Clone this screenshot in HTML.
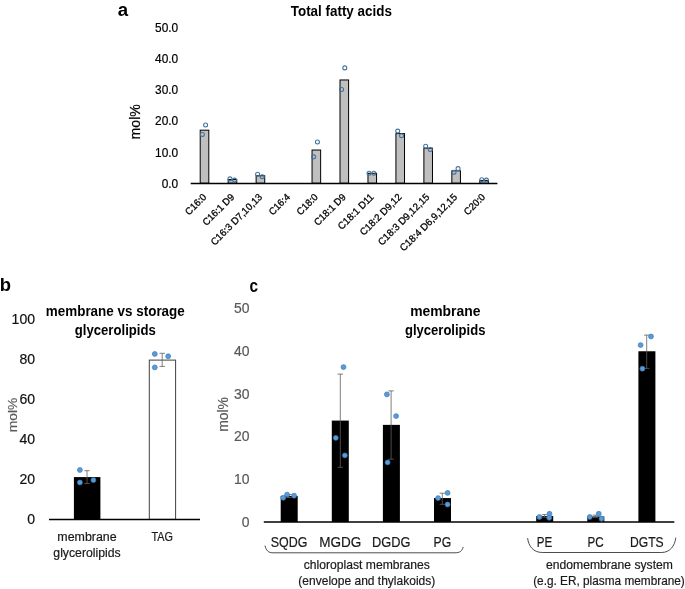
<!DOCTYPE html>
<html><head><meta charset="utf-8"><title>Figure</title>
<style>
html,body{margin:0;padding:0;background:#fff;}
svg{display:block;font-family:"Liberation Sans",sans-serif;}
</style></head><body>
<svg width="685" height="589" viewBox="0 0 685 589">
<rect x="0" y="0" width="685" height="589" fill="#fff"/>
<text x="122.90" y="16.20" font-size="18.90" text-anchor="middle" fill="#000" font-weight="bold" textLength="10.37" lengthAdjust="spacingAndGlyphs">a</text>
<text x="341.30" y="15.80" font-size="13.83" text-anchor="middle" fill="#000" font-weight="bold" textLength="101.13" lengthAdjust="spacingAndGlyphs">Total fatty acids</text>
<text x="178.20" y="188.00" font-size="12.90" text-anchor="end" fill="#000" textLength="16.50" lengthAdjust="spacingAndGlyphs" stroke="#000" stroke-width="0.2">0.0</text>
<text x="178.20" y="156.70" font-size="12.90" text-anchor="end" fill="#000" textLength="23.10" lengthAdjust="spacingAndGlyphs" stroke="#000" stroke-width="0.2">10.0</text>
<text x="178.20" y="125.40" font-size="12.90" text-anchor="end" fill="#000" textLength="23.10" lengthAdjust="spacingAndGlyphs" stroke="#000" stroke-width="0.2">20.0</text>
<text x="178.20" y="94.10" font-size="12.90" text-anchor="end" fill="#000" textLength="23.10" lengthAdjust="spacingAndGlyphs" stroke="#000" stroke-width="0.2">30.0</text>
<text x="178.20" y="62.80" font-size="12.90" text-anchor="end" fill="#000" textLength="23.10" lengthAdjust="spacingAndGlyphs" stroke="#000" stroke-width="0.2">40.0</text>
<text x="178.20" y="31.50" font-size="12.90" text-anchor="end" fill="#000" textLength="23.10" lengthAdjust="spacingAndGlyphs" stroke="#000" stroke-width="0.2">50.0</text>
<text x="0.00" y="0.00" font-size="13.95" text-anchor="middle" fill="#000" textLength="35.19" lengthAdjust="spacingAndGlyphs" transform="translate(139.90,121.80) rotate(-90)" stroke="#000" stroke-width="0.2">mol%</text>
<rect x="200.20" y="130.19" width="8.60" height="53.01" fill="#bfbfbf" stroke="#000" stroke-width="1"/>
<text x="0.00" y="0.00" font-size="9.90" text-anchor="end" fill="#000" textLength="25.53" lengthAdjust="spacingAndGlyphs" transform="translate(207.10,197.70) rotate(-45)" stroke="#000" stroke-width="0.3">C16:0</text>
<rect x="228.16" y="179.48" width="8.60" height="3.72" fill="#bfbfbf" stroke="#000" stroke-width="1"/>
<text x="0.00" y="0.00" font-size="9.90" text-anchor="end" fill="#000" textLength="40.36" lengthAdjust="spacingAndGlyphs" transform="translate(234.97,197.70) rotate(-45)" stroke="#000" stroke-width="0.3">C16:1 D9</text>
<rect x="256.12" y="175.76" width="8.60" height="7.44" fill="#bfbfbf" stroke="#000" stroke-width="1"/>
<text x="0.00" y="0.00" font-size="9.90" text-anchor="end" fill="#000" textLength="68.15" lengthAdjust="spacingAndGlyphs" transform="translate(262.84,197.70) rotate(-45)" stroke="#000" stroke-width="0.3">C16:3 D7,10,13</text>
<text x="0.00" y="0.00" font-size="9.90" text-anchor="end" fill="#000" textLength="25.53" lengthAdjust="spacingAndGlyphs" transform="translate(290.71,197.70) rotate(-45)" stroke="#000" stroke-width="0.3">C16:4</text>
<rect x="312.04" y="150.03" width="8.60" height="33.17" fill="#bfbfbf" stroke="#000" stroke-width="1"/>
<text x="0.00" y="0.00" font-size="9.90" text-anchor="end" fill="#000" textLength="25.53" lengthAdjust="spacingAndGlyphs" transform="translate(318.58,197.70) rotate(-45)" stroke="#000" stroke-width="0.3">C18:0</text>
<rect x="340.00" y="79.97" width="8.60" height="103.23" fill="#bfbfbf" stroke="#000" stroke-width="1"/>
<text x="0.00" y="0.00" font-size="9.90" text-anchor="end" fill="#000" textLength="40.36" lengthAdjust="spacingAndGlyphs" transform="translate(346.45,197.70) rotate(-45)" stroke="#000" stroke-width="0.3">C18:1 D9</text>
<rect x="367.96" y="173.28" width="8.60" height="9.92" fill="#bfbfbf" stroke="#000" stroke-width="1"/>
<text x="0.00" y="0.00" font-size="9.90" text-anchor="end" fill="#000" textLength="45.94" lengthAdjust="spacingAndGlyphs" transform="translate(374.32,197.70) rotate(-45)" stroke="#000" stroke-width="0.3">C18:1 D11</text>
<rect x="395.92" y="133.60" width="8.60" height="49.60" fill="#bfbfbf" stroke="#000" stroke-width="1"/>
<text x="0.00" y="0.00" font-size="9.90" text-anchor="end" fill="#000" textLength="54.26" lengthAdjust="spacingAndGlyphs" transform="translate(402.19,197.70) rotate(-45)" stroke="#000" stroke-width="0.3">C18:2 D9,12</text>
<rect x="423.88" y="148.17" width="8.60" height="35.03" fill="#bfbfbf" stroke="#000" stroke-width="1"/>
<text x="0.00" y="0.00" font-size="9.90" text-anchor="end" fill="#000" textLength="68.15" lengthAdjust="spacingAndGlyphs" transform="translate(430.06,197.70) rotate(-45)" stroke="#000" stroke-width="0.3">C18:3 D9,12,15</text>
<rect x="451.84" y="170.80" width="8.60" height="12.40" fill="#bfbfbf" stroke="#000" stroke-width="1"/>
<text x="0.00" y="0.00" font-size="9.90" text-anchor="end" fill="#000" textLength="76.47" lengthAdjust="spacingAndGlyphs" transform="translate(457.93,197.70) rotate(-45)" stroke="#000" stroke-width="0.3">C18:4 D6,9,12,15</text>
<rect x="479.80" y="180.41" width="8.60" height="2.79" fill="#bfbfbf" stroke="#000" stroke-width="1"/>
<text x="0.00" y="0.00" font-size="9.90" text-anchor="end" fill="#000" textLength="25.53" lengthAdjust="spacingAndGlyphs" transform="translate(485.80,197.70) rotate(-45)" stroke="#000" stroke-width="0.3">C20:0</text>
<line x1="190.70" y1="183.50" x2="497.40" y2="183.50" stroke="#000" stroke-width="1.3"/>
<circle cx="205.60" cy="124.92" r="2.0" fill="none" stroke="#41719c" stroke-width="1.05"/>
<circle cx="202.40" cy="134.53" r="2.0" fill="none" stroke="#41719c" stroke-width="1.05"/>
<circle cx="229.96" cy="178.86" r="2.0" fill="none" stroke="#41719c" stroke-width="1.05"/>
<circle cx="234.56" cy="180.10" r="2.0" fill="none" stroke="#41719c" stroke-width="1.05"/>
<circle cx="257.62" cy="174.21" r="2.0" fill="none" stroke="#41719c" stroke-width="1.05"/>
<circle cx="262.22" cy="176.69" r="2.0" fill="none" stroke="#41719c" stroke-width="1.05"/>
<circle cx="317.44" cy="141.97" r="2.0" fill="none" stroke="#41719c" stroke-width="1.05"/>
<circle cx="313.64" cy="156.85" r="2.0" fill="none" stroke="#41719c" stroke-width="1.05"/>
<circle cx="344.80" cy="67.88" r="2.0" fill="none" stroke="#41719c" stroke-width="1.05"/>
<circle cx="341.60" cy="89.58" r="2.0" fill="none" stroke="#41719c" stroke-width="1.05"/>
<circle cx="369.06" cy="173.28" r="2.0" fill="none" stroke="#41719c" stroke-width="1.05"/>
<circle cx="373.86" cy="173.28" r="2.0" fill="none" stroke="#41719c" stroke-width="1.05"/>
<circle cx="397.72" cy="131.12" r="2.0" fill="none" stroke="#41719c" stroke-width="1.05"/>
<circle cx="401.52" cy="135.77" r="2.0" fill="none" stroke="#41719c" stroke-width="1.05"/>
<circle cx="425.68" cy="146.31" r="2.0" fill="none" stroke="#41719c" stroke-width="1.05"/>
<circle cx="430.28" cy="149.41" r="2.0" fill="none" stroke="#41719c" stroke-width="1.05"/>
<circle cx="454.04" cy="172.35" r="2.0" fill="none" stroke="#41719c" stroke-width="1.05"/>
<circle cx="458.04" cy="168.63" r="2.0" fill="none" stroke="#41719c" stroke-width="1.05"/>
<circle cx="481.80" cy="179.79" r="2.0" fill="none" stroke="#41719c" stroke-width="1.05"/>
<circle cx="486.40" cy="180.10" r="2.0" fill="none" stroke="#41719c" stroke-width="1.05"/>
<text x="5.40" y="291.00" font-size="18.90" text-anchor="middle" fill="#000" font-weight="bold" textLength="11.27" lengthAdjust="spacingAndGlyphs">b</text>
<text x="115.30" y="316.30" font-size="13.76" text-anchor="middle" fill="#000" font-weight="bold" textLength="139.02" lengthAdjust="spacingAndGlyphs">membrane vs storage</text>
<text x="115.30" y="334.90" font-size="13.76" text-anchor="middle" fill="#000" font-weight="bold" textLength="81.00" lengthAdjust="spacingAndGlyphs">glycerolipids</text>
<text x="35.00" y="524.00" font-size="14.69" text-anchor="end" fill="#111" textLength="7.81" lengthAdjust="spacingAndGlyphs" stroke="#111" stroke-width="0.2">0</text>
<text x="35.00" y="483.90" font-size="14.69" text-anchor="end" fill="#111" textLength="15.61" lengthAdjust="spacingAndGlyphs" stroke="#111" stroke-width="0.2">20</text>
<text x="35.00" y="443.80" font-size="14.69" text-anchor="end" fill="#111" textLength="15.61" lengthAdjust="spacingAndGlyphs" stroke="#111" stroke-width="0.2">40</text>
<text x="35.00" y="403.70" font-size="14.69" text-anchor="end" fill="#111" textLength="15.61" lengthAdjust="spacingAndGlyphs" stroke="#111" stroke-width="0.2">60</text>
<text x="35.00" y="363.60" font-size="14.69" text-anchor="end" fill="#111" textLength="15.61" lengthAdjust="spacingAndGlyphs" stroke="#111" stroke-width="0.2">80</text>
<text x="35.00" y="323.50" font-size="14.69" text-anchor="end" fill="#111" textLength="23.42" lengthAdjust="spacingAndGlyphs" stroke="#111" stroke-width="0.2">100</text>
<text x="0.00" y="0.00" font-size="13.68" text-anchor="middle" fill="#595959" textLength="34.51" lengthAdjust="spacingAndGlyphs" transform="translate(16.60,415.00) rotate(-90)" stroke="#595959" stroke-width="0.2">mol%</text>
<rect x="73.90" y="477.09" width="26.50" height="42.31" fill="#000"/>
<rect x="149.30" y="360.10" width="26.30" height="159.30" fill="#fff" stroke="#404040" stroke-width="1"/>
<line x1="49.00" y1="519.40" x2="200.00" y2="519.40" stroke="#000" stroke-width="1.5"/>
<line x1="87.00" y1="470.70" x2="87.00" y2="483.50" stroke="#5f5f5f" stroke-width="0.8"/>
<line x1="84.30" y1="470.70" x2="89.70" y2="470.70" stroke="#5f5f5f" stroke-width="0.8"/>
<line x1="84.30" y1="483.50" x2="89.70" y2="483.50" stroke="#5f5f5f" stroke-width="0.8"/>
<line x1="162.20" y1="353.30" x2="162.20" y2="366.40" stroke="#5f5f5f" stroke-width="0.8"/>
<line x1="159.50" y1="353.30" x2="164.90" y2="353.30" stroke="#5f5f5f" stroke-width="0.8"/>
<line x1="159.50" y1="366.40" x2="164.90" y2="366.40" stroke="#5f5f5f" stroke-width="0.8"/>
<circle cx="79.90" cy="470.00" r="2.45" fill="#5b9bd5" stroke="#3f7dbd" stroke-width="0.75"/>
<circle cx="79.90" cy="482.50" r="2.45" fill="#5b9bd5" stroke="#3f7dbd" stroke-width="0.75"/>
<circle cx="93.40" cy="480.10" r="2.45" fill="#5b9bd5" stroke="#3f7dbd" stroke-width="0.75"/>
<circle cx="154.80" cy="354.00" r="2.45" fill="#5b9bd5" stroke="#3f7dbd" stroke-width="0.75"/>
<circle cx="168.20" cy="356.30" r="2.45" fill="#5b9bd5" stroke="#3f7dbd" stroke-width="0.75"/>
<circle cx="154.80" cy="367.40" r="2.45" fill="#5b9bd5" stroke="#3f7dbd" stroke-width="0.75"/>
<text x="87.00" y="541.00" font-size="12.00" text-anchor="middle" fill="#1a1a1a" textLength="59.33" lengthAdjust="spacingAndGlyphs" stroke="#1a1a1a" stroke-width="0.2">membrane</text>
<text x="87.00" y="557.00" font-size="12.00" text-anchor="middle" fill="#1a1a1a" textLength="67.33" lengthAdjust="spacingAndGlyphs" stroke="#1a1a1a" stroke-width="0.2">glycerolipids</text>
<text x="162.20" y="541.00" font-size="12.00" text-anchor="middle" fill="#1a1a1a" textLength="21.48" lengthAdjust="spacingAndGlyphs" stroke="#1a1a1a" stroke-width="0.2">TAG</text>
<text x="253.90" y="291.80" font-size="18.45" text-anchor="middle" fill="#000" font-weight="bold" textLength="8.58" lengthAdjust="spacingAndGlyphs">c</text>
<text x="445.30" y="315.90" font-size="13.95" text-anchor="middle" fill="#000" font-weight="bold" textLength="70.28" lengthAdjust="spacingAndGlyphs">membrane</text>
<text x="445.20" y="334.50" font-size="13.95" text-anchor="middle" fill="#000" font-weight="bold" textLength="80.48" lengthAdjust="spacingAndGlyphs">glycerolipids</text>
<text x="249.40" y="526.90" font-size="14.87" text-anchor="end" fill="#595959" textLength="7.75" lengthAdjust="spacingAndGlyphs" stroke="#595959" stroke-width="0.2">0</text>
<text x="249.40" y="484.10" font-size="14.87" text-anchor="end" fill="#595959" textLength="15.51" lengthAdjust="spacingAndGlyphs" stroke="#595959" stroke-width="0.2">10</text>
<text x="249.40" y="441.30" font-size="14.87" text-anchor="end" fill="#595959" textLength="15.51" lengthAdjust="spacingAndGlyphs" stroke="#595959" stroke-width="0.2">20</text>
<text x="249.40" y="398.50" font-size="14.87" text-anchor="end" fill="#595959" textLength="15.51" lengthAdjust="spacingAndGlyphs" stroke="#595959" stroke-width="0.2">30</text>
<text x="249.40" y="355.70" font-size="14.87" text-anchor="end" fill="#595959" textLength="15.51" lengthAdjust="spacingAndGlyphs" stroke="#595959" stroke-width="0.2">40</text>
<text x="249.40" y="312.90" font-size="14.87" text-anchor="end" fill="#595959" textLength="15.51" lengthAdjust="spacingAndGlyphs" stroke="#595959" stroke-width="0.2">50</text>
<text x="0.00" y="0.00" font-size="13.77" text-anchor="middle" fill="#595959" textLength="34.74" lengthAdjust="spacingAndGlyphs" transform="translate(227.50,414.50) rotate(-90)" stroke="#595959" stroke-width="0.2">mol%</text>
<rect x="280.70" y="495.92" width="17.00" height="26.08" fill="#000"/>
<text x="289.10" y="546.90" font-size="14.69" text-anchor="middle" fill="#1a1a1a" textLength="36.63" lengthAdjust="spacingAndGlyphs" stroke="#1a1a1a" stroke-width="0.2">SQDG</text>
<rect x="331.80" y="420.59" width="17.00" height="101.41" fill="#000"/>
<text x="340.20" y="546.90" font-size="14.69" text-anchor="middle" fill="#1a1a1a" textLength="42.07" lengthAdjust="spacingAndGlyphs" stroke="#1a1a1a" stroke-width="0.2">MGDG</text>
<rect x="382.90" y="424.87" width="17.00" height="97.13" fill="#000"/>
<text x="391.30" y="546.90" font-size="14.69" text-anchor="middle" fill="#1a1a1a" textLength="38.38" lengthAdjust="spacingAndGlyphs" stroke="#1a1a1a" stroke-width="0.2">DGDG</text>
<rect x="434.00" y="498.06" width="17.00" height="23.94" fill="#000"/>
<text x="442.40" y="546.90" font-size="14.69" text-anchor="middle" fill="#1a1a1a" textLength="17.67" lengthAdjust="spacingAndGlyphs" stroke="#1a1a1a" stroke-width="0.2">PG</text>
<rect x="536.20" y="516.04" width="17.00" height="5.96" fill="#000"/>
<text x="544.60" y="546.90" font-size="14.69" text-anchor="middle" fill="#1a1a1a" textLength="15.48" lengthAdjust="spacingAndGlyphs" stroke="#1a1a1a" stroke-width="0.2">PE</text>
<rect x="587.30" y="516.46" width="17.00" height="5.54" fill="#000"/>
<text x="595.70" y="546.90" font-size="14.69" text-anchor="middle" fill="#1a1a1a" textLength="16.17" lengthAdjust="spacingAndGlyphs" stroke="#1a1a1a" stroke-width="0.2">PC</text>
<rect x="638.40" y="351.26" width="17.00" height="170.74" fill="#000"/>
<text x="646.80" y="546.90" font-size="14.69" text-anchor="middle" fill="#1a1a1a" textLength="33.62" lengthAdjust="spacingAndGlyphs" stroke="#1a1a1a" stroke-width="0.2">DGTS</text>
<line x1="263.80" y1="522.00" x2="674.30" y2="522.00" stroke="#000" stroke-width="1.4"/>
<line x1="289.00" y1="494.50" x2="289.00" y2="497.50" stroke="#5f5f5f" stroke-width="0.8"/>
<line x1="286.30" y1="494.50" x2="291.70" y2="494.50" stroke="#5f5f5f" stroke-width="0.8"/>
<line x1="286.30" y1="497.50" x2="291.70" y2="497.50" stroke="#5f5f5f" stroke-width="0.8"/>
<line x1="340.30" y1="374.10" x2="340.30" y2="467.30" stroke="#5f5f5f" stroke-width="0.8"/>
<line x1="337.60" y1="374.10" x2="343.00" y2="374.10" stroke="#5f5f5f" stroke-width="0.8"/>
<line x1="337.60" y1="467.30" x2="343.00" y2="467.30" stroke="#5f5f5f" stroke-width="0.8"/>
<line x1="391.10" y1="390.90" x2="391.10" y2="459.20" stroke="#5f5f5f" stroke-width="0.8"/>
<line x1="388.40" y1="390.90" x2="393.80" y2="390.90" stroke="#5f5f5f" stroke-width="0.8"/>
<line x1="388.40" y1="459.20" x2="393.80" y2="459.20" stroke="#5f5f5f" stroke-width="0.8"/>
<line x1="442.30" y1="493.20" x2="442.30" y2="504.30" stroke="#5f5f5f" stroke-width="0.8"/>
<line x1="439.60" y1="493.20" x2="445.00" y2="493.20" stroke="#5f5f5f" stroke-width="0.8"/>
<line x1="439.60" y1="504.30" x2="445.00" y2="504.30" stroke="#5f5f5f" stroke-width="0.8"/>
<line x1="544.60" y1="514.60" x2="544.60" y2="517.20" stroke="#5f5f5f" stroke-width="0.8"/>
<line x1="541.90" y1="514.60" x2="547.30" y2="514.60" stroke="#5f5f5f" stroke-width="0.8"/>
<line x1="541.90" y1="517.20" x2="547.30" y2="517.20" stroke="#5f5f5f" stroke-width="0.8"/>
<line x1="595.30" y1="515.10" x2="595.30" y2="517.60" stroke="#5f5f5f" stroke-width="0.8"/>
<line x1="592.60" y1="515.10" x2="598.00" y2="515.10" stroke="#5f5f5f" stroke-width="0.8"/>
<line x1="592.60" y1="517.60" x2="598.00" y2="517.60" stroke="#5f5f5f" stroke-width="0.8"/>
<line x1="646.70" y1="335.10" x2="646.70" y2="368.40" stroke="#5f5f5f" stroke-width="0.8"/>
<line x1="644.00" y1="335.10" x2="649.40" y2="335.10" stroke="#5f5f5f" stroke-width="0.8"/>
<line x1="644.00" y1="368.40" x2="649.40" y2="368.40" stroke="#5f5f5f" stroke-width="0.8"/>
<circle cx="283.20" cy="497.80" r="2.45" fill="#5b9bd5" stroke="#3f7dbd" stroke-width="0.75"/>
<circle cx="287.10" cy="494.60" r="2.45" fill="#5b9bd5" stroke="#3f7dbd" stroke-width="0.75"/>
<circle cx="294.10" cy="495.70" r="2.45" fill="#5b9bd5" stroke="#3f7dbd" stroke-width="0.75"/>
<circle cx="343.50" cy="367.10" r="2.45" fill="#5b9bd5" stroke="#3f7dbd" stroke-width="0.75"/>
<circle cx="335.80" cy="437.90" r="2.45" fill="#5b9bd5" stroke="#3f7dbd" stroke-width="0.75"/>
<circle cx="344.90" cy="455.40" r="2.45" fill="#5b9bd5" stroke="#3f7dbd" stroke-width="0.75"/>
<circle cx="386.90" cy="394.40" r="2.45" fill="#5b9bd5" stroke="#3f7dbd" stroke-width="0.75"/>
<circle cx="396.10" cy="416.10" r="2.45" fill="#5b9bd5" stroke="#3f7dbd" stroke-width="0.75"/>
<circle cx="387.60" cy="462.40" r="2.45" fill="#5b9bd5" stroke="#3f7dbd" stroke-width="0.75"/>
<circle cx="438.10" cy="498.10" r="2.45" fill="#5b9bd5" stroke="#3f7dbd" stroke-width="0.75"/>
<circle cx="447.60" cy="492.90" r="2.45" fill="#5b9bd5" stroke="#3f7dbd" stroke-width="0.75"/>
<circle cx="447.60" cy="504.50" r="2.45" fill="#5b9bd5" stroke="#3f7dbd" stroke-width="0.75"/>
<circle cx="539.40" cy="517.00" r="2.45" fill="#5b9bd5" stroke="#3f7dbd" stroke-width="0.75"/>
<circle cx="549.50" cy="513.80" r="2.45" fill="#5b9bd5" stroke="#3f7dbd" stroke-width="0.75"/>
<circle cx="549.20" cy="517.80" r="2.45" fill="#5b9bd5" stroke="#3f7dbd" stroke-width="0.75"/>
<circle cx="589.80" cy="517.00" r="2.45" fill="#5b9bd5" stroke="#3f7dbd" stroke-width="0.75"/>
<circle cx="598.80" cy="513.80" r="2.45" fill="#5b9bd5" stroke="#3f7dbd" stroke-width="0.75"/>
<circle cx="601.50" cy="518.80" r="2.45" fill="#5b9bd5" stroke="#3f7dbd" stroke-width="0.75"/>
<circle cx="651.00" cy="336.50" r="2.45" fill="#5b9bd5" stroke="#3f7dbd" stroke-width="0.75"/>
<circle cx="640.60" cy="345.10" r="2.45" fill="#5b9bd5" stroke="#3f7dbd" stroke-width="0.75"/>
<circle cx="642.40" cy="368.70" r="2.45" fill="#5b9bd5" stroke="#3f7dbd" stroke-width="0.75"/>
<path d="M265,545.6 C266,550 268,552.8 273,552.8 L455,552.8 C460,552.8 462,551 463.2,547" fill="none" stroke="#111" stroke-width="0.75"/>
<path d="M527.6,538.1 C528.6,546 533,552.5 542.5,552.5 L661.5,552.5 C670,552.5 674.8,546 675.8,537.6" fill="none" stroke="#111" stroke-width="0.75"/>
<text x="366.80" y="568.50" font-size="12.19" text-anchor="middle" fill="#1a1a1a" textLength="126.00" lengthAdjust="spacingAndGlyphs" stroke="#1a1a1a" stroke-width="0.2">chloroplast membranes</text>
<text x="366.80" y="584.50" font-size="12.19" text-anchor="middle" fill="#1a1a1a" textLength="136.91" lengthAdjust="spacingAndGlyphs" stroke="#1a1a1a" stroke-width="0.2">(envelope and thylakoids)</text>
<text x="609.50" y="569.20" font-size="12.28" text-anchor="middle" fill="#1a1a1a" textLength="126.79" lengthAdjust="spacingAndGlyphs" stroke="#1a1a1a" stroke-width="0.2">endomembrane system</text>
<text x="609.00" y="584.50" font-size="12.33" text-anchor="middle" fill="#1a1a1a" textLength="151.66" lengthAdjust="spacingAndGlyphs" stroke="#1a1a1a" stroke-width="0.2">(e.g. ER, plasma membrane)</text>
</svg>
</body></html>
